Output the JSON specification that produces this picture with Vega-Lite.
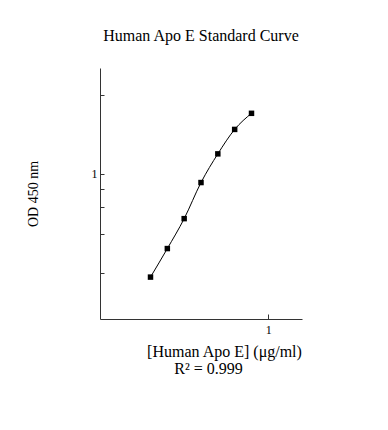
{
  "$schema": "https://vega.github.io/schema/vega-lite/v6.json",
  "autosize": "none",
  "width": 202,
  "height": 251,
  "padding": {"left": 100, "top": 68, "right": 86, "bottom": 111},
  "background": "white",
  "title": {
    "text": "Human Apo E Standard Curve",
    "font": "Liberation Serif",
    "fontSize": 16,
    "fontWeight": "normal",
    "color": "black",
    "anchor": "middle",
    "offset": 24
  },
  "config": {
    "view": {"stroke": null},
    "axis": {
      "labelFont": "Liberation Serif",
      "titleFont": "Liberation Serif",
      "labelColor": "black",
      "titleColor": "black",
      "titleFontWeight": "normal",
      "domainColor": "#333333",
      "tickColor": "#333333",
      "grid": false
    }
  },
  "data": {
    "values": [
      {"conc": 0.3, "od": 0.208},
      {"conc": 0.4, "od": 0.321},
      {"conc": 0.5, "od": 0.506},
      {"conc": 0.6, "od": 0.876},
      {"conc": 0.7, "od": 1.355},
      {"conc": 0.8, "od": 1.965},
      {"conc": 0.9, "od": 2.51}
    ]
  },
  "encoding": {
    "x": {
      "field": "conc",
      "type": "quantitative",
      "scale": {"type": "linear", "domain": [0, 1.2], "nice": false, "zero": false},
      "axis": {
        "values": [1],
        "format": "d",
        "tickSize": -5,
        "labelPadding": 10,
        "labelFontSize": 12,
        "title": ["[Human Apo E] (μg/ml)", "R² = 0.999\u00a0\u00a0\u00a0\u00a0\u00a0\u00a0\u00a0\u00a0\u200b"],
        "titleFontSize": 16,
        "titleX": 124,
        "titlePadding": 8,
        "titleLineHeight": 17
      }
    },
    "y": {
      "field": "od",
      "type": "quantitative",
      "scale": {"type": "log", "domain": [0.11, 5.0], "nice": false},
      "axis": {
        "values": [0.22, 0.4, 0.6, 0.8, 1, 3.3],
        "labelExpr": "datum.value == 1 ? '1' : ''",
        "tickSize": -4,
        "labelPadding": 7,
        "labelFontSize": 12,
        "title": "OD 450 nm",
        "titleFontSize": 14,
        "titlePadding": 51
      }
    }
  },
  "layer": [
    {"mark": {"type": "line", "interpolate": "monotone", "color": "black", "strokeWidth": 1}},
    {"mark": {"type": "square", "filled": true, "color": "black", "size": 30, "opacity": 1}}
  ]
}
